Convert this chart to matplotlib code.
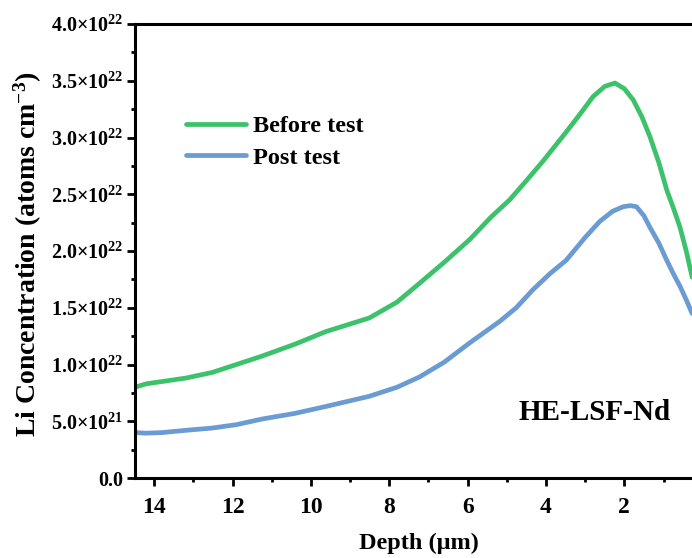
import matplotlib
matplotlib.use("Agg")
import matplotlib.pyplot as plt
from matplotlib.ticker import MultipleLocator, FixedLocator, FixedFormatter

plt.rcParams['font.family'] = ['Liberation Serif', 'DejaVu Serif']
plt.rcParams['font.weight'] = 'bold'
plt.rcParams['mathtext.fontset'] = 'custom'
plt.rcParams['mathtext.rm'] = 'Liberation Serif:bold'
plt.rcParams['mathtext.bf'] = 'Liberation Serif:bold'
plt.rcParams['mathtext.it'] = 'Liberation Serif:bold'

# Data (depth in µm, concentration in units of 1e22 atoms/cm^3)
depth_before = [14.49, 14.2, 13.8, 13.2, 12.52, 11.9, 11.24, 10.4, 9.62, 8.51,
                7.8, 7.23, 6.6, 5.95, 5.4, 4.93, 4.5, 4.08, 3.48, 3.1, 2.80,
                2.5, 2.24, 2.0, 1.77, 1.55, 1.35, 1.12, 0.92, 0.75, 0.58, 0.42, 0.27]
conc_before = [0.80, 0.83, 0.85, 0.88, 0.93, 1.00, 1.075, 1.18, 1.29, 1.41,
               1.55, 1.715, 1.90, 2.10, 2.30, 2.45, 2.62, 2.79, 3.05, 3.22, 3.36,
               3.45, 3.48, 3.43, 3.33, 3.18, 3.01, 2.78, 2.54, 2.38, 2.21, 2.00, 1.77]

depth_post = [14.49, 14.2, 13.8, 13.2, 12.52, 11.9, 11.24, 10.4, 9.62, 8.51,
              7.8, 7.23, 6.6, 5.95, 5.18, 4.76, 4.33, 3.9, 3.48, 3.0, 2.63,
              2.3, 2.03, 1.85, 1.69, 1.5, 1.35, 1.12, 0.92, 0.75, 0.58, 0.42, 0.27]
conc_post = [0.40, 0.395, 0.40, 0.42, 0.44, 0.47, 0.52, 0.57, 0.63, 0.72,
             0.80, 0.89, 1.02, 1.19, 1.38, 1.50, 1.66, 1.80, 1.92, 2.12, 2.26,
             2.35, 2.39, 2.40, 2.39, 2.31, 2.21, 2.07, 1.92, 1.80, 1.69, 1.57, 1.45]

series_labels = ["Before test", "Post test"]
ytick_values = [0.0, 0.5, 1.0, 1.5, 2.0, 2.5, 3.0, 3.5, 4.0]
ytick_labels = ["0.0", "5.0×10$^{21}$", "1.0×10$^{22}$", "1.5×10$^{22}$",
                "2.0×10$^{22}$", "2.5×10$^{22}$", "3.0×10$^{22}$",
                "3.5×10$^{22}$", "4.0×10$^{22}$"]
xtick_values = [14, 12, 10, 8, 6, 4, 2]
sample_label = "HE-LSF-Nd"

green = "#3dc26c"
blue = "#6a9bd3"

W, H = 692, 558
fig = plt.figure(figsize=(W / 100, H / 100), dpi=100)
left_px, right_px, top_px, bottom_px = 135, 702.7, 24, 478
ax = fig.add_axes([left_px / W, 1 - bottom_px / H,
                   (right_px - left_px) / W, (bottom_px - top_px) / H])

ax.plot(depth_before, conc_before, color=green, lw=3.4, label=series_labels[0],
        solid_capstyle='round')
ax.plot(depth_post, conc_post, color=blue, lw=3.4, label=series_labels[1],
        solid_capstyle='round')

ax.set_xlim(14.49, 0)
ax.set_ylim(0, 4.0)

ax.xaxis.set_major_locator(FixedLocator(xtick_values))
ax.xaxis.set_minor_locator(MultipleLocator(1))
ax.yaxis.set_major_locator(FixedLocator(ytick_values))
ax.yaxis.set_major_formatter(FixedFormatter(ytick_labels))
ax.yaxis.set_minor_locator(MultipleLocator(0.25))

for s in ax.spines.values():
    s.set_linewidth(2.2)
ax.tick_params(axis='both', which='major', direction='out', length=5.5, width=2.0)
ax.tick_params(axis='both', which='minor', direction='out', length=3, width=2.0)
ax.tick_params(axis='x', which='major', labelsize=17, pad=8)
ax.tick_params(axis='y', which='major', labelsize=14.5, pad=3)
for lab in ax.get_xticklabels() + ax.get_yticklabels():
    lab.set_fontweight('bold')

ax.set_xlabel("Depth (μm)", fontsize=17.5, fontweight='bold', labelpad=11)
fig.text(28 / W, 1 - 254 / H, "Li Concentration (atoms cm$^{-3}$)", rotation=90,
         fontsize=20, fontweight='bold', ha='center', va='center')

leg = ax.legend(loc='upper left', bbox_to_anchor=(186 / W, 1 - 115 / H),
                bbox_transform=fig.transFigure, frameon=False,
                prop={'size': 17.5, 'weight': 'bold'}, handlelength=2.45,
                handletextpad=0.3, labelspacing=0.4, borderpad=0, borderaxespad=0)

fig.text(671 / W, 1 - 413 / H, sample_label, fontsize=21, fontweight='bold',
         ha='right', va='center')

fig.savefig("out.png", dpi=100)
